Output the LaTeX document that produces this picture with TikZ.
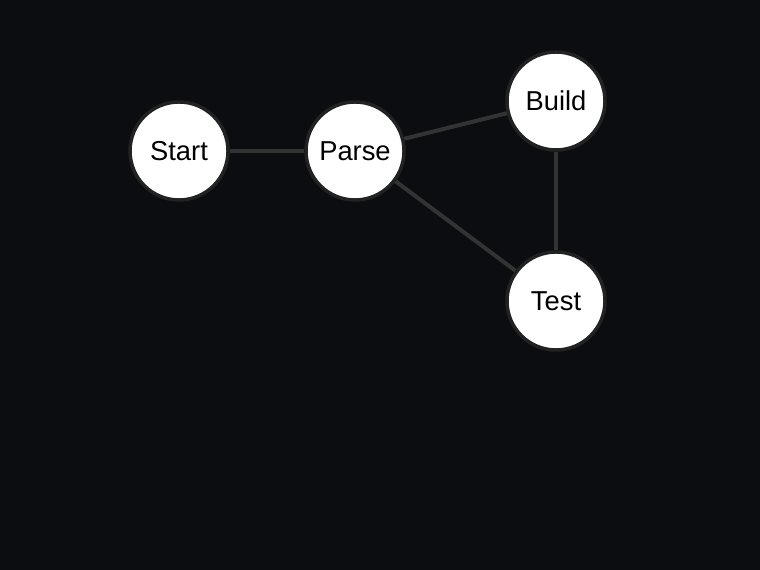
\documentclass[tikz,border=0pt]{standalone}
\usepackage{fontspec}
\setmainfont{Liberation Sans}
\definecolor{bg}{HTML}{0C0D10}
\definecolor{ring}{HTML}{222222}
\definecolor{edge}{HTML}{333333}
\begin{document}
\begin{tikzpicture}[x=0.75pt,y=-0.75pt,
  vtx/.style={circle,fill=white,draw=ring,line width=2.6pt,minimum size=73.5pt,inner sep=0pt,font=\fontsize{20.5}{23}\selectfont,text=black},
  link/.style={draw=edge,line width=3pt}]
\fill[bg] (0,0) rectangle (760,570);
\useasboundingbox (0,0) rectangle (760,570);
\node[vtx] (start) at (179,151) {Start};
\node[vtx] (parse) at (355,151) {Parse};
\node[vtx] (build) at (556,101) {Build};
\node[vtx] (test) at (556,301) {Test};
\draw[link] (start) -- (parse);
\draw[link] (parse) -- (build);
\draw[link] (parse) -- (test);
\draw[link] (build) -- (test);
\end{tikzpicture}
\end{document}
